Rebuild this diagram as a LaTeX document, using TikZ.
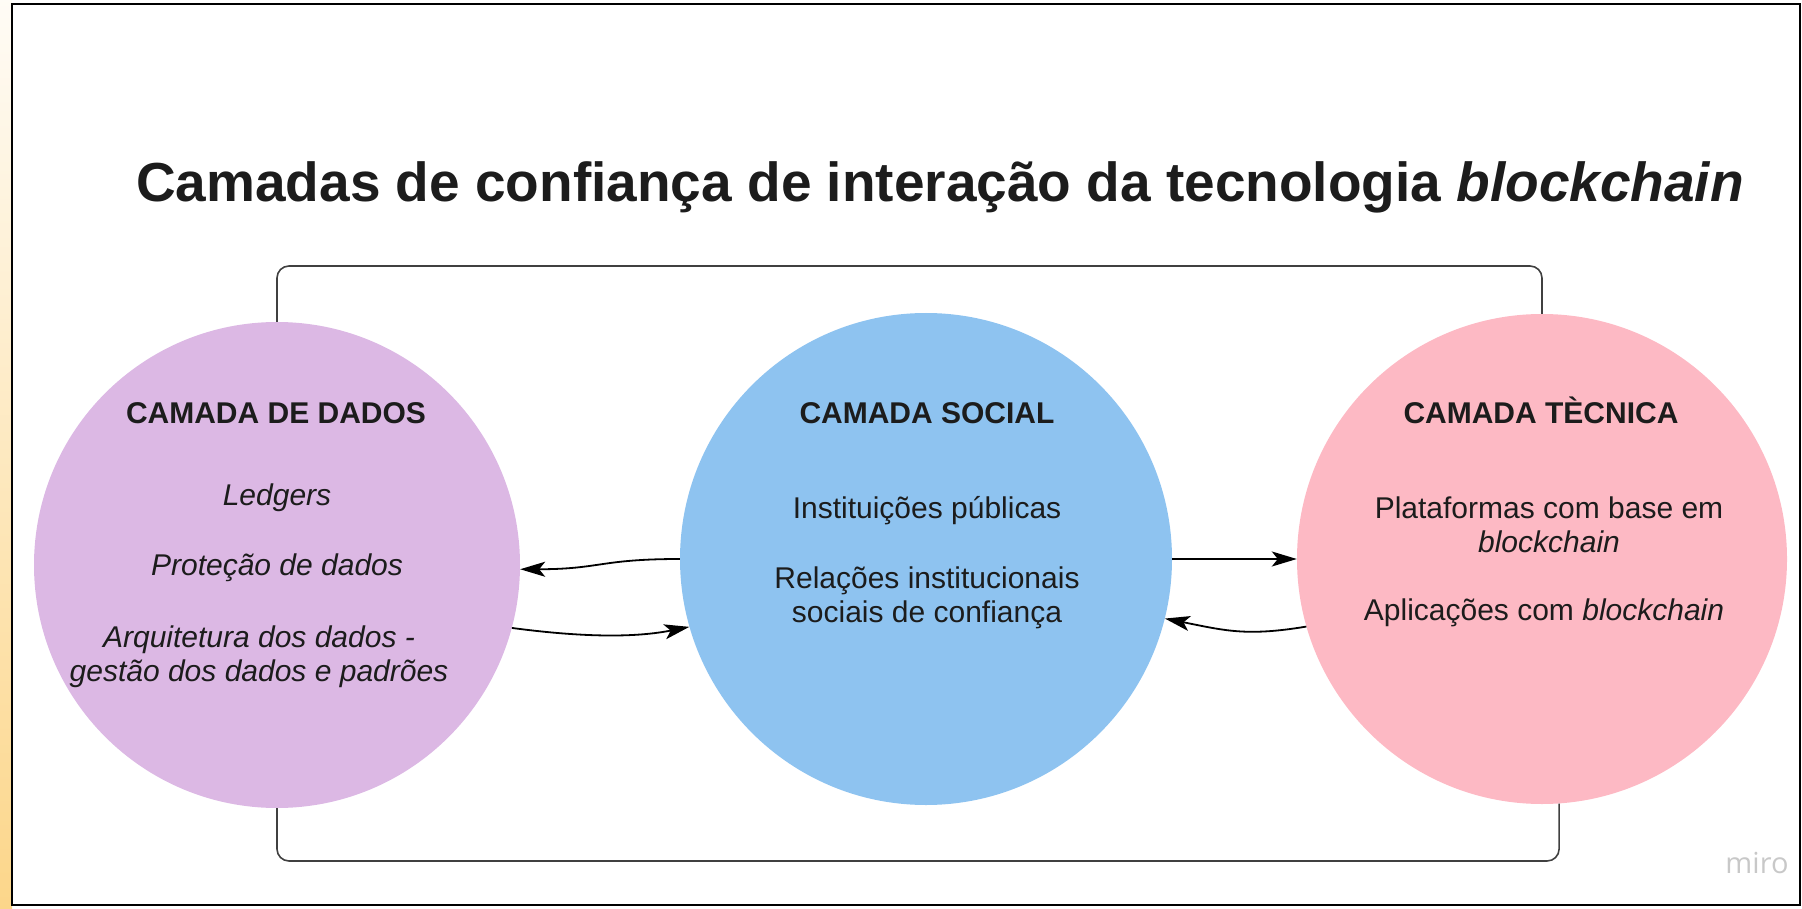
\documentclass[tikz,border=0pt]{standalone}
\usepackage{fontspec}
\setmainfont{Liberation Sans}
\newfontfamily\logofont{Open Sans}
\usepackage{tikz}
\definecolor{datapurple}{RGB}{220, 184, 228}
\definecolor{socialblue}{RGB}{142, 195, 240}
\definecolor{techpink}{RGB}{253, 185, 196}
\definecolor{edgegray}{RGB}{64, 64, 64}
\definecolor{stripyellow}{RGB}{252, 214, 138}
\definecolor{logogray}{RGB}{200, 200, 200}
\definecolor{textdark}{RGB}{28, 28, 28}
\usetikzlibrary{arrows.meta, positioning, calc}

\begin{document}
\begin{tikzpicture}[
    x=1pt, y=-1pt,
    layer/.style={circle, minimum size=490pt, inner sep=0pt},
    heading/.style={anchor=base, inner sep=0pt, text=textdark,
                  font=\fontsize{30}{34}\selectfont\bfseries},
    item/.style={anchor=base, inner sep=0pt, align=center, text=textdark,
                  font=\fontsize{30}{34}\selectfont},
    flow/.style={-{Stealth[length=25pt, width=15pt, inset=6pt]}, line width=1.8pt, black},
    frame/.style={rounded corners=12pt, line width=1.6pt, edgegray}
]
    \useasboundingbox (0,0) rectangle (1802,909);
    \shade[top color=white!92!stripyellow, bottom color=stripyellow] (0,0) rectangle (12,909);
    \draw[line width=1.5pt, black] (12,4) rectangle (1800,905);

    % Title
    \node[anchor=base, inner sep=0pt, text=textdark, font=\fontsize{55}{60}\selectfont\bfseries] (title) at (940,202) {Camadas de confiança de interação da tecnologia \textit{blockchain}};

    % Layers
    \node[layer, fill=datapurple, minimum size=486pt] (dados) at (277,565) {};
    \node[layer, fill=socialblue, minimum size=492pt] (social) at (926,559) {};
    \node[layer, fill=techpink] (tecnica) at (1542,559) {};

    % Data Layer
    \node[heading] (dadostitle) at (276,423) {CAMADA DE DADOS};
    \node[item] (ledgers) at (277,505) {\textit{Ledgers}};
    \node[item] (protecao) at (277,575) {\textit{Proteção de dados}};
    \node[item] (arquitetura) at (259,681) {\textit{Arquitetura dos dados -}\\\textit{gestão dos dados e padrões}};

    % Social Layer
    \node[heading] (socialtitle) at (927,423) {CAMADA SOCIAL};
    \node[item] (instituicoes) at (927,518) {Instituições públicas};
    \node[item] (relacoes) at (927,622) {Relações institucionais\\sociais de confiança};

    % Technical Layer
    \node[heading] (tecnicatitle) at (1541,423) {CAMADA TÈCNICA};
    \node[item] (plataformas) at (1549,552) {Plataformas com base em\\\textit{blockchain}};
    \node[item] (aplicacoes) at (1544,620) {Aplicações com \textit{blockchain}};

    % Connectors
    \coordinate (topbar) at (900,266);
    \coordinate (bottombar) at (900,861);
    \draw[frame] (dados.north) |- (topbar) -| (tecnica.north);
    \draw[frame] (dados.south) |- (bottombar) -| (tecnica.-86.5);

    % Arrows
    \draw[flow] (social.180) .. controls +(-80,0) and +(80,0) .. (dados.-1.4);
    \draw[flow] (dados.-15.5) .. controls +(60,8) and +(-60,12) .. (social.196);
    \draw[flow] (social.0) -- (tecnica.180);
    \draw[flow] (tecnica.196.5) .. controls +(-60,10) and +(60,12) .. (social.-14.7);

    % Logo
    \node[anchor=base, inner sep=0pt, text=logogray, font=\logofont\fontsize{29}{29}\selectfont] (logo) at (1757,873) {miro};
\end{tikzpicture}
\end{document}
